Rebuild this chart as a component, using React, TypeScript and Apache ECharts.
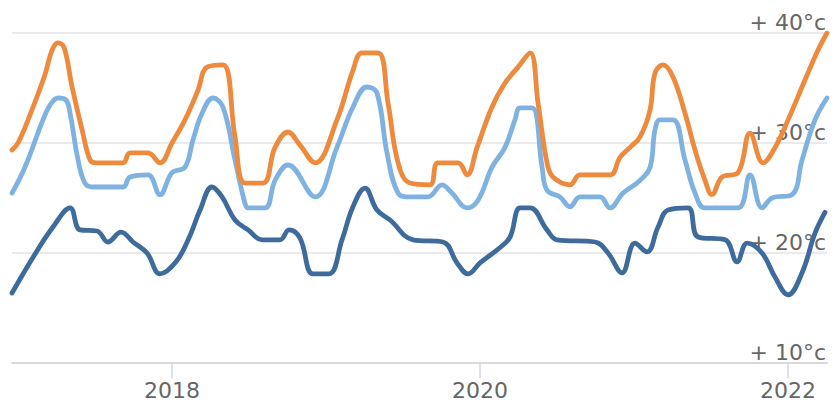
import React, { useEffect, useRef } from "react";
import * as echarts from "echarts";

// decimal years
const orangeYears = [2016.961, 2017.0, 2017.078, 2017.175, 2017.221, 2017.26, 2017.299, 2017.351, 2017.416, 2017.468, 2017.506, 2017.682, 2017.727, 2017.844, 2017.922, 2018.0, 2018.084, 2018.169, 2018.227, 2018.331, 2018.409, 2018.474, 2018.591, 2018.669, 2018.753, 2018.831, 2018.929, 2019.071, 2019.175, 2019.234, 2019.338, 2019.403, 2019.468, 2019.545, 2019.675, 2019.727, 2019.857, 2019.916, 2019.981, 2020.078, 2020.162, 2020.247, 2020.325, 2020.377, 2020.435, 2020.474, 2020.584, 2020.649, 2020.844, 2020.909, 2020.974, 2021.039, 2021.104, 2021.136, 2021.188, 2021.253, 2021.331, 2021.396, 2021.461, 2021.506, 2021.571, 2021.675, 2021.753, 2021.838, 2021.916, 2022.0, 2022.11, 2022.195, 2022.253];
const orangeTemps = [29.36, 30.0, 32.55, 36.2, 38.45, 39.1, 38.7, 35.1, 31.2, 28.45, 28.2, 28.2, 29.1, 29.1, 28.2, 30.0, 32.1, 34.8, 36.9, 37.1, 30.55, 26.36, 26.36, 29.6, 31.0, 29.8, 28.2, 32.1, 36.6, 38.2, 38.2, 33.6, 28.2, 26.36, 26.2, 28.2, 28.2, 27.1, 29.6, 33.27, 35.45, 36.9, 38.2, 33.6, 28.2, 26.9, 26.2, 27.1, 27.1, 28.7, 29.6, 30.55, 33.0, 36.36, 37.1, 36.0, 32.7, 29.36, 26.6, 25.3, 26.9, 27.3, 30.9, 28.2, 29.6, 32.1, 35.73, 38.45, 40.0];

const lightYears = [2016.961, 2017.045, 2017.162, 2017.208, 2017.26, 2017.312, 2017.338, 2017.39, 2017.435, 2017.487, 2017.682, 2017.727, 2017.844, 2017.922, 2018.0, 2018.084, 2018.136, 2018.195, 2018.266, 2018.331, 2018.409, 2018.474, 2018.494, 2018.604, 2018.669, 2018.753, 2018.929, 2019.071, 2019.175, 2019.266, 2019.331, 2019.396, 2019.468, 2019.545, 2019.662, 2019.753, 2019.818, 2019.916, 2019.987, 2020.078, 2020.162, 2020.227, 2020.26, 2020.338, 2020.403, 2020.435, 2020.519, 2020.584, 2020.649, 2020.779, 2020.844, 2020.929, 2021.039, 2021.104, 2021.136, 2021.169, 2021.253, 2021.331, 2021.396, 2021.461, 2021.675, 2021.753, 2021.831, 2021.896, 2022.026, 2022.091, 2022.175, 2022.253];
const lightTemps = [25.45, 27.8, 32.1, 33.45, 34.09, 33.9, 32.7, 28.45, 26.36, 26.0, 26.0, 26.9, 27.1, 25.3, 27.3, 27.8, 30.27, 32.7, 34.09, 33.27, 28.45, 24.5, 24.1, 24.1, 26.6, 28.0, 25.1, 29.6, 33.27, 35.09, 34.55, 29.1, 25.45, 25.1, 25.1, 26.2, 25.45, 24.1, 24.8, 27.8, 29.6, 32.1, 33.2, 33.2, 27.8, 25.7, 25.1, 24.2, 25.1, 25.1, 24.1, 25.45, 26.6, 27.8, 31.2, 32.1, 32.1, 28.45, 25.45, 24.1, 24.1, 27.1, 24.1, 25.0, 25.3, 28.45, 32.1, 34.09];

const darkYears = [2016.961, 2017.097, 2017.227, 2017.338, 2017.403, 2017.513, 2017.584, 2017.669, 2017.747, 2017.838, 2017.922, 2018.026, 2018.11, 2018.182, 2018.26, 2018.325, 2018.409, 2018.494, 2018.584, 2018.701, 2018.76, 2018.831, 2018.916, 2019.019, 2019.104, 2019.175, 2019.253, 2019.331, 2019.416, 2019.565, 2019.76, 2019.851, 2019.922, 2020.0, 2020.13, 2020.195, 2020.26, 2020.325, 2020.435, 2020.5, 2020.747, 2020.831, 2020.922, 2021.006, 2021.084, 2021.156, 2021.221, 2021.351, 2021.416, 2021.591, 2021.669, 2021.734, 2021.831, 2021.916, 2022.0, 2022.091, 2022.175, 2022.24];
const darkTemps = [16.36, 19.6, 22.36, 24.1, 22.1, 22.0, 21.0, 21.9, 21.0, 20.0, 18.1, 19.2, 21.36, 23.9, 26.0, 25.1, 23.0, 22.1, 21.2, 21.2, 22.1, 21.36, 18.1, 18.1, 21.2, 24.2, 25.9, 23.9, 23.0, 21.2, 21.0, 19.1, 18.1, 19.1, 20.5, 21.45, 24.1, 24.1, 22.1, 21.2, 21.0, 20.0, 18.2, 20.9, 20.1, 22.36, 23.9, 24.1, 21.45, 21.2, 19.2, 20.9, 20.0, 17.8, 16.2, 18.2, 21.8, 23.7];

const yearTicks = [2018, 2020, 2022];
const tempTicks = [10, 20, 30, 40];

const pairs = (xs: number[], ys: number[]) => xs.map((x, i) => [x, ys[i]]);

const FONT = "'DejaVu Sans', 'Liberation Sans', Arial, sans-serif";

export default function App() {
  const ref = useRef<HTMLDivElement>(null);
  useEffect(() => {
    if (!ref.current) return;
    const chart = echarts.init(ref.current, undefined, { renderer: "svg" });
    const lineSeries = (data: number[][], color: string) => ({
      type: "line",
      data,
      showSymbol: false,
      smooth: 0.4,
      lineStyle: { color, width: 4.8, cap: "round", join: "round" },
      itemStyle: { color },
    });
    chart.setOption({
      animation: false,
      backgroundColor: "#ffffff",
      grid: { left: 12, right: 8, top: 33, bottom: 47, containLabel: false },
      xAxis: {
        type: "value",
        min: 2016.961,
        max: 2022.253,
        axisLine: { show: true, lineStyle: { color: "#d9d9d9", width: 2 } },
        axisTick: {
          show: true,
          customValues: yearTicks,
          length: 15,
          lineStyle: { color: "#ccd6eb", width: 1.5 },
        },
        axisLabel: {
          customValues: yearTicks,
          formatter: (v: number) => String(Math.round(v)),
          color: "#666666",
          fontSize: 22,
          fontFamily: FONT,
          margin: 16,
        },
        splitLine: { show: false },
      },
      yAxis: {
        type: "value",
        position: "right",
        min: 10,
        max: 40,
        interval: 10,
        axisLine: { show: false },
        axisTick: { show: false },
        splitLine: { show: true, lineStyle: { color: "#e3e3e3", width: 1.5 } },
        axisLabel: {
          inside: true,
          margin: 1,
          verticalAlign: "bottom",
          customValues: tempTicks,
          formatter: (v: number) => "+ " + v + "°c",
          color: "#666666",
          fontSize: 22,
          fontFamily: FONT,
        },
      },
      series: [
        lineSeries(pairs(darkYears, darkTemps), "#3f6b9c"),
        lineSeries(pairs(lightYears, lightTemps), "#7fb2e0"),
        lineSeries(pairs(orangeYears, orangeTemps), "#ee8a3e"),
      ],
    });
    return () => chart.dispose();
  }, []);
  return (
    <div
      ref={ref}
      style={{ position: "fixed", left: 0, top: 0, width: 835, height: 410 }}
    />
  );
}
